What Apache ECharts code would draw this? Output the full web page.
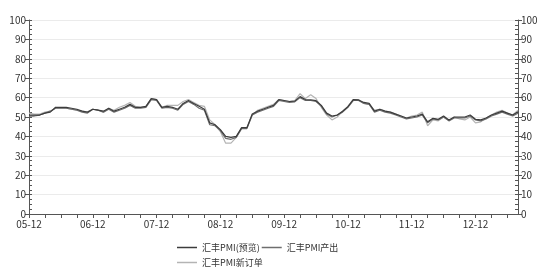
<!DOCTYPE html>
<html>
<head>
<meta charset="utf-8">
<script src="https://cdn.jsdelivr.net/npm/echarts@6/dist/echarts.min.js"></script>
<style>html,body{margin:0;padding:0;background:#fff;}#c{width:550px;height:273px;}</style>
</head>
<body>
<div id="c"></div>
<script>
// Monthly categories 05-12 .. 13-08
const categories = [];
for (let y = 2005, m = 12; !(y === 2013 && m === 9); ) {
  categories.push(String(y % 100).padStart(2, '0') + '-' + String(m).padStart(2, '0'));
  m++; if (m > 12) { m = 1; y++; }
}
const seriesNames = ['汇丰PMI(预览)', '汇丰PMI产出', '汇丰PMI新订单'];
const flashPMI = [
  51, 51, 51, 52, 52.5, 55, 55, 55, 54.5, 54, 53, 52.5,
  54, 53.5, 53, 54.5, 53, 54, 55, 56.5, 55, 55, 55.5, 59.5,
  59, 55, 55.5, 55, 54, 57, 58.5, 57, 55.5, 54, 47, 46,
  43.5, 40, 39.5, 40, 44.5, 44.5, 51.5, 53, 54, 55, 56, 59,
  58.5, 58, 58.2, 60.5, 59, 58.8, 58.4, 56, 52, 50.5, 51, 53,
  55.3, 59, 58.8, 57.5, 57, 53, 54, 53, 52.5, 51.5, 50.5, 49.5,
  50, 50.5, 51.5, 47.5, 49.3, 48.8, 50.5, 48.5, 50, 50, 50, 51,
  48.8, 48.5, 49.5, 51, 52, 53, 52, 51, 52.7
];
const outputPMI = [
  50.5, 50.5, 51, 52, 53, 54.5, 54.5, 54.5, 54, 53.5, 52.5, 52,
  54, 53.5, 52.5, 54, 52.5, 53.5, 54.5, 56, 54.5, 54.5, 55, 59,
  58.5, 54.5, 55, 54.5, 53.5, 56.5, 58, 56.5, 54.5, 53.5, 46, 45.5,
  43, 39, 38.5, 39.5, 44, 44, 51, 52.5, 53.5, 54.5, 55.5, 58.5,
  58, 57.5, 57.8, 60, 58.5, 58.5, 58, 55.5, 51.5, 50, 51, 52.5,
  55, 58.5, 58.5, 57, 56.5, 52.5, 53.5, 52.5, 52, 51, 50, 49,
  49.5, 50, 51, 47, 49, 48.5, 50, 48, 49.5, 49.5, 49.5, 50.5,
  48.5, 48, 49, 50.5, 51.5, 52.5, 51.5, 50.5, 52
];
const newOrdersPMI = [
  52, 51.5, 51.5, 52.5, 53, 54.5, 54.5, 54.5, 54, 53.5, 53, 52.5,
  54, 53.5, 52.5, 54.5, 53.5, 55, 56, 57.5, 55.5, 55, 55.5, 59.5,
  59, 55, 56, 56, 56, 58, 59, 57.5, 56, 55.5, 48.5, 46,
  42.5, 36.5, 36.5, 39.5, 44.5, 44.5, 51, 53.5, 54.5, 55.5, 56.5, 59,
  58.5, 58, 58.5, 62, 59.5, 61.5, 59.5, 55, 51, 48.5, 50, 53,
  55.5, 59, 59, 57, 56.5, 53.5, 54, 53, 52.5, 51.5, 50.5, 49.5,
  50.5, 51, 52.5, 45.5, 48.5, 48, 50, 48, 50, 49, 48.5, 50,
  47, 47.5, 49.5, 51, 52.5, 53.5, 52, 51, 53.5
];
const colors = ['#3c3c3c', '#6e6e6e', '#b4b4b4'];
const font = '"Noto Sans CJK SC", "DejaVu Sans", sans-serif';

function yAx(pos) {
  return {
    type: 'value', position: pos, min: 0, max: 100, interval: 10,
    axisLine: { show: true, lineStyle: { color: '#555', width: 1 } },
    axisTick: { show: true, length: 4, lineStyle: { color: '#555' } },
    axisLabel: { color: '#333', fontSize: 10, fontFamily: font, margin: 3 },
    splitLine: { show: pos === 'left', lineStyle: { color: '#ebebeb', width: 1 } }
  };
}
function yMinor(pos) {
  return {
    type: 'value', position: pos, min: 0, max: 100, interval: 2.5,
    axisLine: { show: false },
    axisTick: { show: true, inside: true, length: 3, lineStyle: { color: '#555' } },
    axisLabel: { show: false },
    splitLine: { show: false }
  };
}
const chart = echarts.init(document.getElementById('c'), null, { renderer: 'canvas' });
chart.setOption({
  animation: false,
  backgroundColor: '#fff',
  grid: { left: 29, right: 32, top: 20, bottom: 59, containLabel: false },
  legend: [
    { data: [seriesNames[0], seriesNames[1]], left: 172, top: 238, icon: 'rect', itemWidth: 20, itemHeight: 1.5, itemGap: 2,
      textStyle: { fontSize: 9, color: '#333', fontFamily: font } },
    { data: [seriesNames[2]], left: 172, top: 253, icon: 'rect', itemWidth: 20, itemHeight: 1.5,
      textStyle: { fontSize: 9, color: '#333', fontFamily: font } }
  ],
  xAxis: {
    type: 'category', data: categories, boundaryGap: false,
    axisLine: { lineStyle: { color: '#555' } },
    axisTick: { show: true, interval: 2, length: 4, lineStyle: { color: '#555' } },
    axisLabel: { interval: 11, color: '#333', fontSize: 10, fontFamily: font, margin: 5 },
    splitLine: { show: false }
  },
  yAxis: [yAx('left'), yAx('right'), yMinor('left'), yMinor('right')],
  series: [
    { name: seriesNames[0], type: 'line', data: flashPMI, symbol: 'none', lineStyle: { color: colors[0], width: 1.2 }, itemStyle: { color: colors[0] }, z: 4 },
    { name: seriesNames[1], type: 'line', data: outputPMI, symbol: 'none', lineStyle: { color: colors[1], width: 1.2 }, itemStyle: { color: colors[1] }, z: 3 },
    { name: seriesNames[2], type: 'line', data: newOrdersPMI, symbol: 'none', lineStyle: { color: colors[2], width: 1.2 }, itemStyle: { color: colors[2] }, z: 2 }
  ]
});
</script>
</body>
</html>
